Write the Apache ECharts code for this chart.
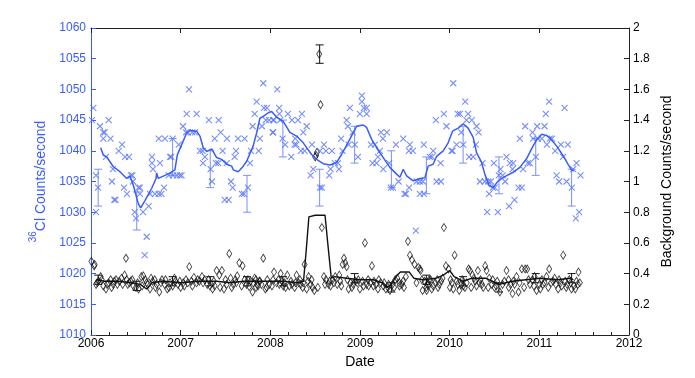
<!DOCTYPE html>
<html>
<head>
<meta charset="utf-8">
<script src="https://cdn.jsdelivr.net/npm/echarts@6/dist/echarts.min.js"></script>
<style>
html,body{margin:0;padding:0;background:#fff;}
#chart{width:695px;height:378px;}
</style>
</head>
<body>
<div id="chart"></div>
<script>
// 36Cl count rate (left axis) – individual runs, [decimal year, counts/s]
var clPoints = [
[2006.026,1047],[2006.011,1045],[2006.10,1044],[2006.056,1036],[2006.078,1034],[2006.056,1030],
[2006.137,1043],[2006.152,1043],[2006.137,1042],[2006.218,1042],[2006.197,1045],[2006.167,1039],
[2006.245,1037],[2006.234,1035],[2006.309,1040],[2006.346,1041],[2006.26,1032],[2006.273,1032],
[2006.368,1034],[2006.38,1039],[2006.424,1039],[2006.401,1033],[2006.446,1036],[2006.461,1036],
[2006.468,1035],[2006.487,1030],[2006.502,1029],[2006.53,1034],[2006.545,1034],[2006.545,1033],
[2006.58,1030],[2006.621,1026],[2006.599,1023],[2006.643,1031],[2006.658,1033],[2006.68,1039],
[2006.68,1038],[2006.691,1037],[2006.769,1038],[2006.713,1033],[2006.755,1033],[2006.785,1033],
[2006.814,1034],[2006.755,1042],[2006.825,1042],[2006.911,1042],[2006.866,1036],[2006.881,1039],
[2006.895,1039],[2006.914,1036],[2006.959,1036],[2006.99,1036],[2007.01,1036],[2006.978,1041],
[2007.026,1044],[2007.067,1046],[2007.093,1050],[2007.178,1046],[2007.059,1043],[2007.08,1043],
[2007.13,1043],[2007.16,1043],[2007.215,1040],[2007.245,1040],[2007.271,1039],[2007.249,1038],
[2007.315,1045],[2007.424,1045],[2007.334,1037],[2007.349,1035],[2007.379,1042],[2007.394,1038],
[2007.42,1038],[2007.446,1043],[2007.468,1040],[2007.491,1032],[2007.535,1032],[2007.516,1042],
[2007.513,1038],[2007.561,1035],[2007.58,1034],[2007.602,1039],[2007.617,1040],[2007.639,1042],
[2007.713,1042],[2007.683,1033],[2007.706,1033],[2007.75,1034],[2007.773,1038],[2007.784,1040],
[2007.87,1040],[2007.803,1044],[2007.825,1046],[2007.847,1048],[2007.884,1042],[2007.906,1044],
[2007.921,1051],[2007.929,1047],[2007.962,1047],[2007.95,1045],[2007.985,1045],[2008.026,1043],
[2008.077,1050],[2008.099,1047],[2008.03,1045],[2008.04,1045],[2008.11,1045],[2008.10,1046],
[2008.196,1046],[2008.032,1043],[2008.137,1042],[2008.166,1041],[2008.241,1045],[2008.308,1045],
[2008.352,1046],[2008.278,1042],[2008.27,1041],[2008.29,1041],[2008.367,1043],[2008.405,1044],
[2008.341,1040],[2008.382,1040],[2008.233,1039],[2008.464,1041],[2008.553,1040],[2008.62,1040],
[2008.687,1040],[2008.598,1041],[2008.478,1037],[2008.449,1036],[2008.553,1034],[2008.575,1034],
[2008.657,1036],[2008.672,1037],[2008.72,1038],[2008.754,1038],[2008.765,1037],[2008.79,1042],
[2008.806,1040],[2008.851,1045],[2008.865,1044],[2008.887,1047],[2008.918,1043],[2008.873,1041],
[2008.943,1041],[2008.977,1039],[2008.999,1046],[2009.021,1048],[2009.021,1049],[2009.043,1047],
[2009.074,1047],[2009.074,1046],[2009.122,1041],[2009.166,1041],[2009.14,1038],[2009.185,1038],
[2009.20,1039],[2009.233,1043],[2009.30,1043],[2009.255,1042],[2009.222,1040],[2009.259,1037],
[2009.326,1038],[2009.344,1034],[2009.367,1034],[2009.40,1041],[2009.43,1035],[2009.482,1042],
[2009.497,1033],[2009.512,1033],[2009.548,1034],[2009.556,1041],[2009.59,1040],[2009.545,1040],
[2009.631,1035],[2009.668,1035],[2009.701,1035],[2009.712,1041],[2009.668,1033],[2009.712,1033],
[2009.779,1039],[2009.802,1039],[2009.816,1040],[2009.854,1035],[2009.902,1035],[2009.899,1038],
[2009.846,1045],[2009.935,1046],[2009.965,1044],[2010.04,1051],[2010.032,1040],[2009.623,1027],
[2010.173,1048],[2010.091,1046],[2010.114,1046],[2010.206,1046],[2010.188,1045],[2010.247,1045],
[2010.30,1044],[2010.322,1043],[2010.128,1043],[2010.02,1040],[2010.077,1041],[2010.151,1041],
[2010.217,1039],[2010.262,1039],[2010.292,1041],[2010.367,1038],[2010.337,1035],[2010.392,1035],
[2010.459,1035],[2010.43,1035],[2010.44,1033],[2010.482,1034],[2010.504,1034],[2010.418,1030],
[2010.537,1030],[2010.493,1038],[2010.567,1037],[2010.634,1039],[2010.671,1038],[2010.708,1038],
[2010.548,1036],[2010.59,1036],[2010.619,1035],[2010.701,1037],[2010.663,1031],[2010.723,1032],
[2010.768,1034],[2010.805,1034],[2010.783,1042],[2010.819,1037],[2010.842,1044],[2010.872,1038],
[2010.894,1038],[2010.924,1043],[2010.931,1042],[2010.983,1042],[2011.028,1042],[2010.976,1044],
[2010.961,1039],[2011.058,1044],[2011.072,1046],[2011.109,1048],[2011.084,1041],[2011.117,1042],
[2011.14,1042],[2011.176,1040],[2011.24,1041],[2011.318,1041],[2011.281,1047],[2011.265,1039],
[2011.192,1036],[2011.221,1035],[2011.303,1035],[2011.377,1037],[2011.415,1038],[2011.362,1034],
[2011.459,1036],[2011.444,1030],[2011.407,1029]
];

// running mean of the 36Cl rate
var clSmooth = [
[2006.108,1040.5],[2006.137,1039.3],[2006.175,1039],[2006.249,1037.4],[2006.323,1036.6],[2006.398,1035.5],
[2006.435,1035.9],[2006.472,1034.4],[2006.527,1031.4],[2006.554,1030.7],[2006.602,1031.9],[2006.677,1033.9],
[2006.725,1035.5],[2006.732,1036.4],[2006.75,1035.5],[2006.825,1036],[2006.881,1036.4],[2006.936,1036.9],
[2006.962,1039.3],[2007.011,1041],[2007.067,1042.9],[2007.104,1043.3],[2007.178,1043.2],[2007.215,1042.4],
[2007.252,1040.5],[2007.29,1039.9],[2007.346,1040.3],[2007.401,1038.9],[2007.457,1038.6],[2007.513,1037.8],
[2007.569,1037.5],[2007.586,1036.9],[2007.642,1036.6],[2007.698,1037.5],[2007.736,1038.3],[2007.809,1040.8],
[2007.847,1042.9],[2007.884,1045.3],[2007.921,1045.6],[2007.977,1046.2],[2008.014,1046.4],[2008.07,1045.5],
[2008.144,1044.8],[2008.218,1043.0],[2008.293,1042.4],[2008.367,1041.3],[2008.46,1039.4],[2008.516,1038.6],
[2008.59,1037.9],[2008.664,1037.7],[2008.739,1038.1],[2008.795,1039.4],[2008.887,1041.9],[2008.962,1044.0],
[2009.036,1044.2],[2009.074,1043.8],[2009.129,1041.9],[2009.185,1040.5],[2009.259,1038.9],[2009.333,1037.3],
[2009.408,1036.2],[2009.445,1035.7],[2009.482,1037],[2009.52,1035.9],[2009.593,1035.1],[2009.668,1035.5],
[2009.724,1035.6],[2009.76,1037.5],[2009.816,1037.8],[2009.854,1039.1],[2009.928,1040],[2009.983,1041.3],
[2010.032,1043.2],[2010.095,1043.7],[2010.151,1044.4],[2010.206,1043.7],[2010.262,1042.2],[2010.3,1039.7],
[2010.356,1038.1],[2010.392,1036.2],[2010.44,1034.3],[2010.485,1034.0],[2010.541,1035.1],[2010.615,1035.8],
[2010.708,1036.5],[2010.783,1037.3],[2010.857,1038.7],[2010.931,1040.8],[2010.976,1041.9],[2011.025,1042.7],
[2011.08,1042.5],[2011.117,1042.1],[2011.192,1040.8],[2011.265,1039.2],[2011.321,1037.8],[2011.359,1036.9],
[2011.385,1036.7]
];

// error bar dates and values (36Cl and background)
var errDates = [2006.08,2006.51,2006.91,2007.33,2007.74,2008.14,2008.55,2008.94,2009.35,2009.74,2010.15,2010.55,2010.96,2011.36];
var clErrMid = [1034,1030.2,1039,1037,1033,1042,1034,1041,1037,1036,1041,1036,1039,1034];
var clErrHalf = [3,3.1,3,3,3,3,3,3,3,3,3,3,3,3];
var bgErrMid = [0.36,0.32,0.35,0.35,0.35,0.35,1.83,0.37,0.31,0.36,0.35,0.31,0.37,0.37];
var bgErrHalf = [0.03,0.03,0.03,0.03,0.03,0.03,0.06,0.03,0.03,0.03,0.03,0.03,0.03,0.03];

// background rate (right axis)
var bgPoints = [
[2006.004,0.48],[2006.041,0.46],[2006.035,0.45],[2006.056,0.33],[2006.082,0.35],[2006.108,0.38],
[2006.137,0.32],[2006.167,0.30],[2006.197,0.34],[2006.219,0.36],[2006.249,0.33],[2006.279,0.36],
[2006.294,0.33],[2006.316,0.35],[2006.353,0.33],[2006.375,0.39],[2006.39,0.50],[2006.398,0.36],
[2006.427,0.34],[2006.442,0.35],[2006.472,0.32],[2006.502,0.31],[2006.531,0.30],[2006.561,0.38],
[2006.583,0.385],[2006.606,0.36],[2006.635,0.33],[2006.658,0.30],[2006.687,0.35],[2006.71,0.36],
[2006.732,0.33],[2006.762,0.28],[2006.791,0.36],[2006.821,0.33],[2006.851,0.30],[2006.881,0.34],
[2006.911,0.32],[2006.94,0.35],[2006.97,0.33],[2007.0,0.31],[2007.029,0.34],[2007.059,0.36],
[2007.096,0.445],[2007.119,0.35],[2007.148,0.375],[2007.178,0.34],[2007.208,0.35],[2007.238,0.38],
[2007.267,0.36],[2007.297,0.33],[2007.327,0.32],[2007.356,0.30],[2007.379,0.32],[2007.401,0.42],
[2007.431,0.39],[2007.46,0.42],[2007.483,0.30],[2007.513,0.33],[2007.542,0.53],[2007.557,0.37],
[2007.587,0.33],[2007.609,0.36],[2007.631,0.385],[2007.654,0.47],[2007.691,0.45],[2007.713,0.36],
[2007.735,0.33],[2007.765,0.315],[2007.78,0.35],[2007.802,0.28],[2007.825,0.37],[2007.854,0.33],
[2007.877,0.35],
[2006.07,0.34],[2006.12,0.36],[2006.18,0.33],[2006.23,0.31],[2006.26,0.35],[2006.34,0.37],
[2006.41,0.33],[2006.46,0.36],[2006.52,0.34],[2006.57,0.32],[2006.62,0.34],[2006.67,0.37],
[2006.72,0.31],[2006.78,0.34],[2006.83,0.36],[2006.87,0.31],[2006.93,0.37],[2006.99,0.35],
[2007.04,0.32],[2007.08,0.34],[2007.13,0.32],[2007.19,0.36],[2007.25,0.34],[2007.31,0.36],
[2007.37,0.35],[2007.44,0.31],[2007.5,0.36],[2007.57,0.31],[2007.62,0.34],[2007.68,0.32],
[2007.75,0.36],[2007.84,0.31],
[2007.81,0.34],[2007.839,0.36],[2007.862,0.32],[2007.884,0.35],[2007.921,0.50],[2007.944,0.30],
[2007.966,0.36],[2007.989,0.33],[2008.018,0.32],[2008.041,0.41],[2008.07,0.34],[2008.1,0.33],
[2008.115,0.40],[2008.144,0.32],[2008.159,0.34],[2008.189,0.39],[2008.211,0.32],[2008.241,0.33],
[2008.271,0.31],[2008.293,0.39],[2008.315,0.34],[2008.338,0.33],[2008.367,0.34],[2008.382,0.46],
[2008.405,0.30],[2008.427,0.38],[2008.449,0.33],[2008.471,0.31],[2008.575,0.70],[2008.598,0.38],
[2008.62,0.36],[2008.65,0.33],[2008.672,0.32],[2008.694,0.36],[2008.724,0.38],[2008.746,0.33],
[2008.769,0.39],[2008.791,0.32],[2008.806,0.46],[2008.821,0.50],[2008.836,0.47],[2008.851,0.445],
[2008.873,0.30],[2008.895,0.34],[2008.925,0.33],[2008.947,0.35],[2008.969,0.34],[2008.999,0.30],
[2009.029,0.35],[2009.055,0.60],[2009.074,0.33],[2009.096,0.32],[2009.118,0.34],[2009.133,0.45],
[2009.156,0.35],[2009.178,0.33],[2009.2,0.30],[2009.23,0.34],[2009.259,0.32],[2009.289,0.30],
[2009.311,0.31],[2009.334,0.29],[2009.363,0.33],[2009.393,0.36],[2009.415,0.37],[2009.438,0.34],
[2009.467,0.33],[2009.49,0.31],[2009.512,0.38],[2009.535,0.61],[2009.557,0.52],[2009.579,0.49],
[2009.609,0.46],[2009.65,0.44],[2009.676,0.42],[2009.72,0.35],[2009.75,0.33],[2009.772,0.36],
[2007.9,0.33],[2007.96,0.31],[2008.03,0.36],[2008.09,0.36],[2008.13,0.35],[2008.17,0.31],
[2008.23,0.35],[2008.28,0.34],[2008.33,0.36],[2008.36,0.31],[2008.42,0.35],[2008.46,0.36],
[2008.49,0.29],[2008.53,0.31],[2008.61,0.33],[2008.66,0.35],[2008.71,0.34],[2008.78,0.35],
[2008.86,0.36],[2008.91,0.31],[2008.98,0.36],[2009.04,0.32],[2009.09,0.36],[2009.15,0.32],
[2009.21,0.36],[2009.27,0.34],[2009.32,0.33],[2009.38,0.31],[2009.44,0.32],[2009.48,0.35],
[2009.63,0.34],[2009.69,0.36],[2009.74,0.31],
[2009.668,0.43],[2009.698,0.29],[2009.743,0.29],[2009.765,0.33],[2009.787,0.36],[2009.817,0.32],
[2009.839,0.34],[2009.861,0.36],[2009.884,0.33],[2009.906,0.35],[2009.936,0.70],[2009.958,0.45],
[2009.988,0.43],[2010.003,0.31],[2010.025,0.34],[2010.055,0.52],[2010.077,0.35],[2010.107,0.29],
[2010.129,0.33],[2010.151,0.32],[2010.17,0.31],[2010.211,0.43],[2010.226,0.42],[2010.255,0.39],
[2010.285,0.35],[2010.315,0.42],[2010.344,0.36],[2010.374,0.31],[2010.396,0.45],[2010.411,0.42],
[2010.441,0.37],[2010.471,0.33],[2010.5,0.31],[2010.53,0.35],[2010.56,0.28],[2010.59,0.33],
[2010.634,0.42],[2010.657,0.36],[2010.679,0.33],[2010.701,0.27],[2010.724,0.33],[2010.746,0.38],
[2010.768,0.28],[2010.805,0.43],[2010.842,0.43],[2010.865,0.43],[2010.895,0.33],[2010.924,0.36],
[2010.947,0.38],[2010.969,0.29],[2010.999,0.33],[2011.028,0.36],[2011.058,0.34],[2011.08,0.38],
[2011.11,0.43],[2011.132,0.34],[2011.154,0.35],[2011.184,0.33],[2011.21,0.30],[2011.236,0.34],
[2011.266,0.52],[2011.288,0.35],[2011.31,0.33],[2011.333,0.36],[2011.359,0.30],[2011.385,0.32],
[2011.414,0.35],[2011.437,0.41],[2011.452,0.34],
[2009.8,0.30],[2009.87,0.31],[2009.92,0.37],[2010.01,0.36],[2010.04,0.30],[2010.09,0.33],
[2010.14,0.36],[2010.19,0.34],[2010.24,0.31],[2010.27,0.37],[2010.3,0.32],[2010.33,0.34],
[2010.36,0.33],[2010.43,0.31],[2010.48,0.36],[2010.52,0.32],[2010.61,0.35],[2010.66,0.31],
[2010.71,0.35],[2010.78,0.34],[2010.83,0.31],[2010.88,0.36],[2010.94,0.32],[2011.01,0.30],
[2011.04,0.33],[2011.1,0.31],[2011.17,0.37],[2011.22,0.36],[2011.25,0.32],[2011.3,0.31],
[2011.35,0.34],[2011.4,0.30],[2011.43,0.33],
[2008.545,1.83],[2008.56,1.50],[2008.51,1.17],[2008.52,1.19],[2008.50,1.16]
];

// running mean of the background
var bgSmooth = [
[2006.06,0.36],[2006.15,0.35],[2006.3,0.35],[2006.45,0.34],[2006.55,0.33],[2006.62,0.30],[2006.68,0.34],
[2006.8,0.35],[2007.0,0.34],[2007.2,0.35],[2007.4,0.35],[2007.55,0.34],[2007.7,0.35],[2007.85,0.35],
[2008.0,0.35],[2008.15,0.35],[2008.3,0.34],[2008.37,0.35],[2008.4,0.55],[2008.43,0.77],[2008.5,0.78],
[2008.61,0.78],[2008.64,0.6],[2008.68,0.37],[2008.72,0.38],[2008.85,0.37],[2009.0,0.36],[2009.15,0.36],
[2009.25,0.34],[2009.3,0.31],[2009.35,0.33],[2009.4,0.38],[2009.45,0.41],[2009.55,0.41],[2009.6,0.37],
[2009.7,0.36],[2009.85,0.37],[2009.93,0.39],[2010.0,0.42],[2010.05,0.38],[2010.15,0.35],[2010.25,0.37],
[2010.4,0.37],[2010.55,0.33],[2010.7,0.35],[2010.85,0.36],[2011.0,0.37],[2011.2,0.36],[2011.35,0.37],
[2011.38,0.36]
];

var blue = '#3a5cff';
var blueBar = '#7a8fff';
var font = 'Liberation Sans';

function errData(mid, half){
    var out = [];
    for(var i=0;i<errDates.length;i++){
        out.push([errDates[i], mid[i]-half[i], mid[i]+half[i]]);
    }
    return out;
}

function errRender(color){
    return function(params, api){
        var x = api.value(0);
        var p1 = api.coord([x, api.value(1)]);
        var p2 = api.coord([x, api.value(2)]);
        var w = 4;
        var st = {stroke: color, lineWidth: 1};
        return {type:'group', children:[
            {type:'line', shape:{x1:p1[0],y1:p1[1],x2:p2[0],y2:p2[1]}, style:st},
            {type:'line', shape:{x1:p1[0]-w,y1:p1[1],x2:p1[0]+w,y2:p1[1]}, style:st},
            {type:'line', shape:{x1:p2[0]-w,y1:p2[1],x2:p2[0]+w,y2:p2[1]}, style:st}
        ]};
    };
}

var chart = echarts.init(document.getElementById('chart'));
var option = {
    animation: false,
    backgroundColor: '#fff',
    textStyle: {fontFamily: font},
    grid: {left: 91, right: 66, top: 28, bottom: 43},
    xAxis: [
        {
            type: 'value', min: 2006, max: 2012, interval: 1,
            name: 'Date', nameLocation: 'middle', nameGap: 20,
            nameTextStyle: {color: '#000', fontSize: 14, fontFamily: font, verticalAlign: 'top'},
            axisLine: {lineStyle: {color: '#222', width: 1}},
            axisTick: {inside: true, length: 5, lineStyle: {color: '#222'}},
            minorTick: {show: true, splitNumber: 5, length: 3, lineStyle: {color: '#222'}},
            axisLabel: {color: '#000', fontSize: 12, fontFamily: font, margin: 3,
                formatter: function(v){ return String(v); }},
            splitLine: {show: false}
        },
        {
            type: 'value', min: 2006, max: 2012, interval: 1, position: 'top',
            axisLine: {lineStyle: {color: '#222', width: 1}},
            axisTick: {inside: true, length: 5, lineStyle: {color: '#222'}},
            axisLabel: {show: false},
            splitLine: {show: false}
        }
    ],
    yAxis: [
        {
            type: 'value', min: 1010, max: 1060, interval: 5, position: 'left',
            name: '{sup|36}{main|Cl Counts/second}', nameLocation: 'middle', nameGap: 31, nameRotate: 90,
            nameTextStyle: {
                color: blue, fontFamily: font,
                rich: {
                    sup: {fontSize: 10, color: blue, fontFamily: font, verticalAlign: 'top', lineHeight: 20},
                    main: {fontSize: 14, color: blue, fontFamily: font, verticalAlign: 'bottom', lineHeight: 20}
                }
            },
            axisLine: {show: true, lineStyle: {color: blue, width: 1}},
            axisTick: {show: true, inside: true, length: 5, lineStyle: {color: blue}},
            axisLabel: {color: blue, fontSize: 12, fontFamily: font, margin: 5,
                formatter: function(v){ return String(v); }},
            splitLine: {show: false}
        },
        {
            type: 'value', min: 0, max: 2, interval: 0.2, position: 'right',
            name: 'Background Counts/second', nameLocation: 'middle', nameGap: 24, nameRotate: 90,
            nameTextStyle: {color: '#000', fontSize: 14, fontFamily: font},
            axisLine: {show: true, lineStyle: {color: '#222', width: 1}},
            axisTick: {show: true, inside: true, length: 5, lineStyle: {color: '#222'}},
            axisLabel: {color: '#000', fontSize: 12, fontFamily: font, margin: 4,
                formatter: function(v){ return String(+v.toFixed(1)); }},
            splitLine: {show: false}
        }
    ],
    series: [
        {
            name: 'bg', type: 'scatter', yAxisIndex: 1, data: bgPoints,
            symbol: 'diamond', symbolSize: [5, 8],
            itemStyle: {color: 'rgba(0,0,0,0)', borderColor: '#111', borderWidth: 0.9}
        },
        {
            name: 'bgSmooth', type: 'line', yAxisIndex: 1, data: bgSmooth,
            showSymbol: false, lineStyle: {color: '#111', width: 1.4}
        },
        {
            name: 'bgErr', type: 'custom', yAxisIndex: 1,
            data: errData(bgErrMid, bgErrHalf), renderItem: errRender('#111'),
            encode: {x: 0, y: [1, 2]}
        },
        {
            name: 'cl', type: 'scatter', yAxisIndex: 0, data: clPoints,
            symbol: 'path://M0,0L10,10M10,0L0,10', symbolSize: 6,
            itemStyle: {color: 'rgba(0,0,0,0)', borderColor: '#5573ff', borderWidth: 1.1}
        },
        {
            name: 'clErr', type: 'custom', yAxisIndex: 0,
            data: errData(clErrMid, clErrHalf), renderItem: errRender(blueBar),
            encode: {x: 0, y: [1, 2]}
        },
        {
            name: 'clSmooth', type: 'line', yAxisIndex: 0, data: clSmooth,
            showSymbol: false, lineStyle: {color: blue, width: 1.5}
        }
    ]
};
chart.setOption(option);
window.onresize = chart.resize;
</script>
</body>
</html>
